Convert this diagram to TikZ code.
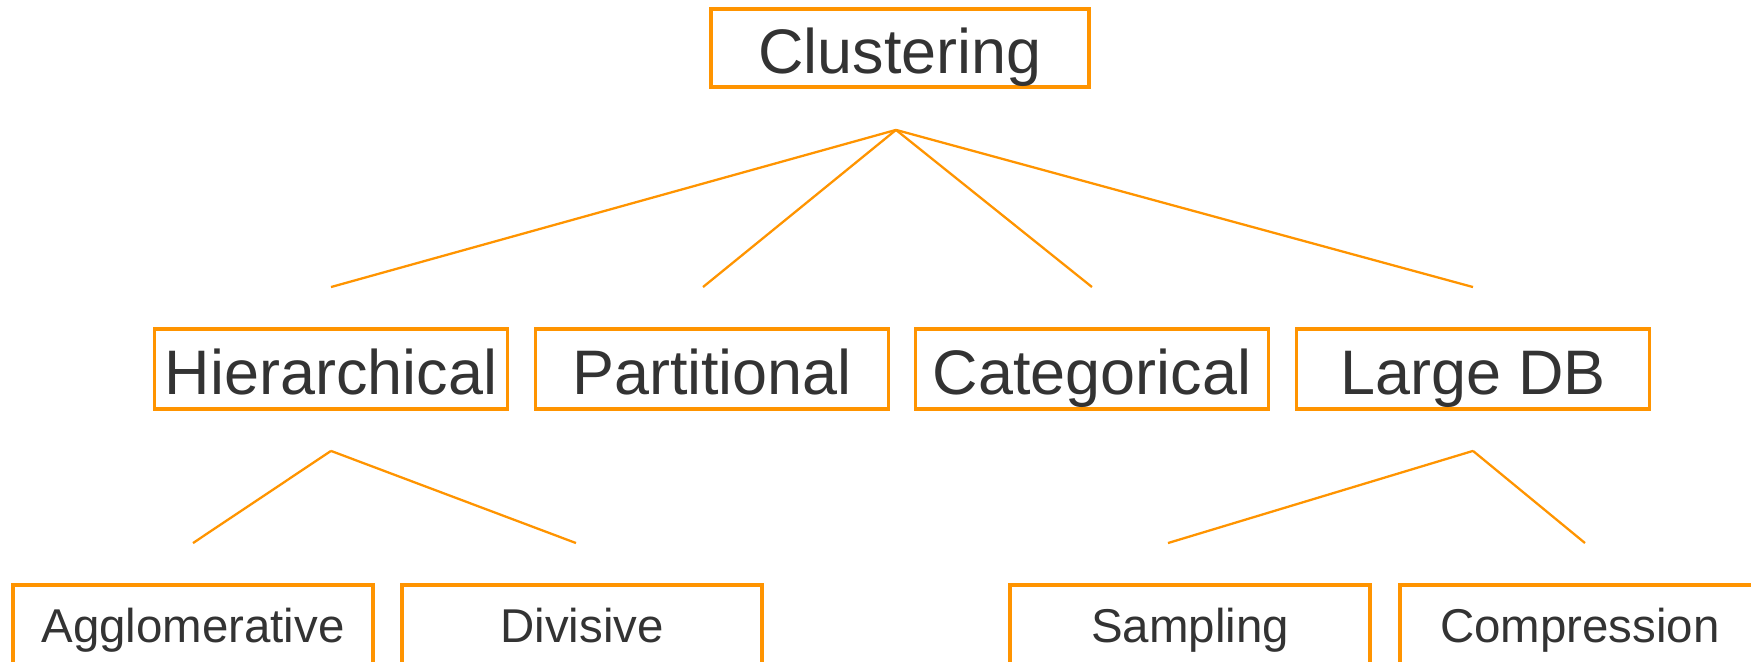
\documentclass[tikz,border=0pt]{standalone}
\usepackage{fontspec}
\setmainfont{Liberation Sans}
\usepackage{tikz}
\definecolor{boxorange}{HTML}{FF9400}
\definecolor{labelgray}{HTML}{333333}

\begin{document}
\begin{tikzpicture}[
        catbox/.style={draw=boxorange, line width=1.1pt, text=labelgray, inner sep=0pt, text depth=0pt},
        bigbox/.style={catbox, minimum height=0.80cm, font=\fontsize{17.9pt}{20pt}\selectfont, text height=14.6pt},
        smallbox/.style={catbox, minimum width=3.60cm, minimum height=0.80cm, font=\fontsize{13.5pt}{16pt}\selectfont, text height=10pt},
        link/.style={draw=boxorange, line width=0.65pt}]

        \useasboundingbox (0,0) rectangle (17.51,6.62);

        % Root
        \node at (9.00,6.14) [bigbox, minimum width=3.78cm, minimum height=0.78cm] (clust) {Clustering};

        % Nodes of the second level
        \node at (3.31,2.93) [bigbox, minimum width=3.53cm] (hier) {Hierarchical};
        \node at (7.12,2.93) [bigbox, minimum width=3.53cm] (part) {Partitional};
        \node at (10.92,2.93) [bigbox, minimum width=3.53cm] (categ) {Categorical};
        \node at (14.73,2.93) [bigbox, minimum width=3.53cm] (large) {Large DB};

        % Nodes of the third level
        \node at (1.93,0.37) [smallbox] (agglo) {Agglomerative};
        \node at (5.82,0.37) [smallbox] (divis) {Divisive};
        \node at (11.90,0.37) [smallbox] (sampl) {Sampling};
        \node at (15.80,0.37) [smallbox] (compr) {Compression};

        % Hubs
        \coordinate (clusthub) at ([xshift=-0.04cm, yshift=-0.41cm]clust.south);
        \coordinate (hierhub) at ([yshift=-0.4cm]hier.south);
        \coordinate (largehub) at ([yshift=-0.4cm]large.south);

        % Lines
        \draw[link] (clusthub) -- ([yshift=0.4cm]hier.north);
        \draw[link] (clusthub) -- ([xshift=-0.09cm, yshift=0.4cm]part.north);
        \draw[link] (clusthub) -- ([yshift=0.4cm]categ.north);
        \draw[link] (clusthub) -- ([yshift=0.4cm]large.north);

        \draw[link] (hierhub) -- ([yshift=0.4cm]agglo.north);
        \draw[link] (hierhub) -- ([xshift=-0.06cm, yshift=0.4cm]divis.north);
        \draw[link] (largehub) -- ([xshift=-0.22cm, yshift=0.4cm]sampl.north);
        \draw[link] (largehub) -- ([xshift=0.05cm, yshift=0.4cm]compr.north);

    \end{tikzpicture}
\end{document}
